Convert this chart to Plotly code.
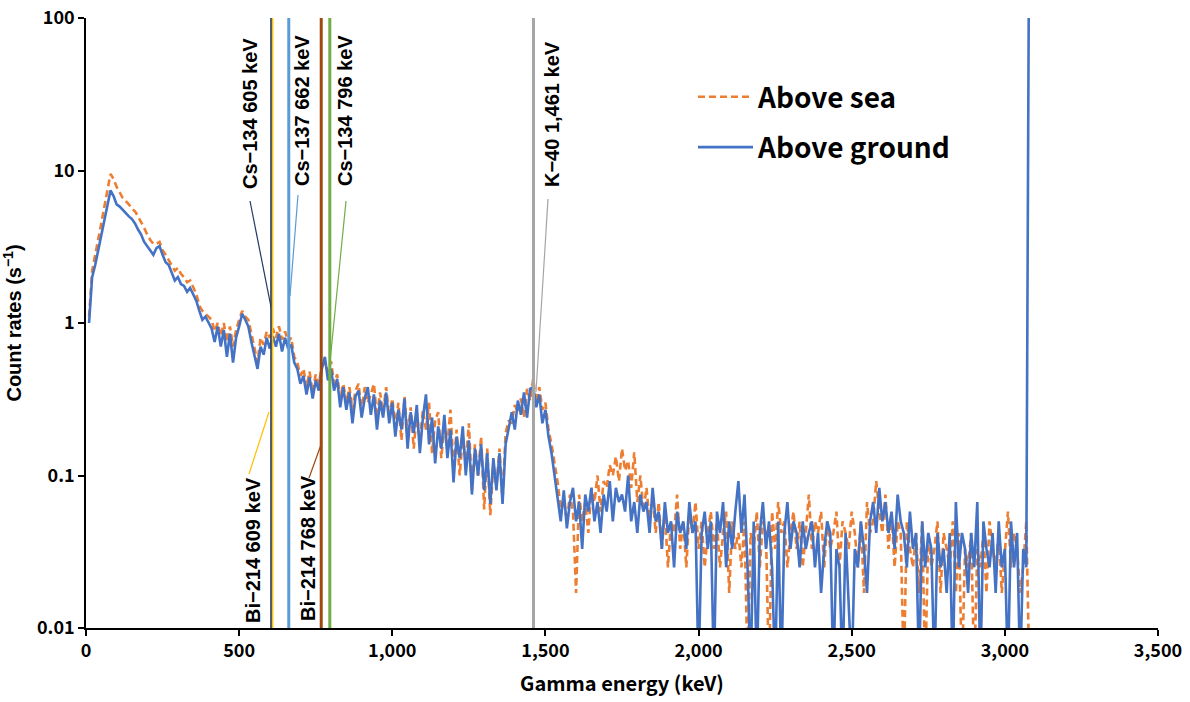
import plotly.graph_objects as go

# Energy grid (keV)
energy = list(range(10, 3081, 10))

# Count rates (s^-1), above ground (blue)
ground = [
    1.0, 2.0, 2.4, 3.0, 3.8, 4.8, 6.0, 7.4, 6.8, 6.0,
    5.8, 5.5, 5.2, 5.0, 4.8, 4.5, 4.1, 3.8, 3.4, 3.2,
    3.0, 2.8, 3.1, 3.2, 2.8, 2.5, 2.4, 2.1, 1.9, 2.0,
    1.8, 1.75, 1.6, 1.7, 1.55, 1.4, 1.2, 1.05, 1.1, 1.0,
    0.92, 0.75, 0.95, 0.7, 0.9, 0.6, 0.85, 0.55, 0.8, 0.95,
    1.15, 1.05, 0.95, 0.75, 0.6, 0.5, 0.7, 0.62, 0.8, 0.68,
    0.82, 0.7, 0.85, 0.65, 0.8, 0.68, 0.72, 0.55, 0.5, 0.4,
    0.45, 0.34, 0.44, 0.32, 0.42, 0.36, 0.5, 0.6, 0.42, 0.5,
    0.36, 0.43, 0.28, 0.38, 0.27, 0.35, 0.22, 0.33, 0.36, 0.24,
    0.32, 0.38, 0.25, 0.34, 0.2, 0.31, 0.24, 0.35, 0.22, 0.3,
    0.18, 0.27, 0.2, 0.32, 0.15, 0.26, 0.19, 0.29, 0.14, 0.24,
    0.34, 0.16, 0.24, 0.12, 0.21, 0.15, 0.25, 0.13, 0.2, 0.09,
    0.18, 0.13, 0.21, 0.1, 0.17, 0.075, 0.15, 0.1, 0.16, 0.08,
    0.14, 0.065, 0.13, 0.08, 0.14, 0.065, 0.16, 0.2, 0.26, 0.2,
    0.31, 0.25, 0.35, 0.24, 0.37, 0.38, 0.28, 0.34, 0.22, 0.27,
    0.18, 0.14, 0.1, 0.075, 0.05, 0.08, 0.045, 0.067, 0.083, 0.05,
    0.067, 0.033, 0.075, 0.058, 0.083, 0.05, 0.067, 0.042, 0.075, 0.058,
    0.092, 0.05, 0.083, 0.067, 0.075, 0.058, 0.1, 0.05, 0.067, 0.042,
    0.075, 0.058, 0.067, 0.042, 0.083, 0.05, 0.058, 0.033, 0.067, 0.042,
    0.05, 0.025, 0.058, 0.042, 0.05, 0.033, 0.067, 0.042, 0.05, 0.005,
    0.042, 0.058, 0.033, 0.05, 0.005, 0.058, 0.042, 0.067, 0.025, 0.05,
    0.033, 0.058, 0.092, 0.042, 0.075, 0.025, 0.005, 0.05, 0.005, 0.042,
    0.067, 0.033, 0.05, 0.025, 0.005, 0.05, 0.005, 0.042, 0.067, 0.033,
    0.05, 0.042, 0.025, 0.05, 0.033, 0.042, 0.05, 0.025, 0.042, 0.017,
    0.033, 0.05, 0.042, 0.005, 0.033, 0.025, 0.005, 0.042, 0.017, 0.005,
    0.033, 0.025, 0.05, 0.033, 0.017, 0.05, 0.067, 0.042, 0.083, 0.05,
    0.067, 0.042, 0.058, 0.033, 0.075, 0.05, 0.042, 0.025, 0.058, 0.033,
    0.042, 0.005, 0.05, 0.025, 0.042, 0.033, 0.005, 0.042, 0.025, 0.033,
    0.017, 0.042, 0.005, 0.067, 0.025, 0.042, 0.033, 0.017, 0.042, 0.025,
    0.067, 0.005, 0.05, 0.033, 0.025, 0.042, 0.017, 0.05, 0.025, 0.033,
    0.005, 0.05, 0.025, 0.042, 0.005, 0.033, 0.025, 1000,
]

# Count rates (s^-1), above sea (orange)
sea = [
    1.1, 2.2, 2.8, 3.5, 4.5, 5.8, 7.5, 9.5, 8.8, 7.8,
    7.2, 6.6, 6.3, 6.0, 5.6, 5.4, 5.0, 4.6, 4.2, 3.8,
    3.5, 3.3, 3.3, 3.4, 3.0, 2.8, 2.6, 2.4, 2.2, 2.3,
    2.1, 2.0, 1.85, 1.9, 1.7, 1.55, 1.3, 1.2, 1.15, 1.1,
    1.05, 0.88, 1.0, 0.82, 1.0, 0.75, 0.95, 0.7, 0.9, 1.05,
    1.2, 1.1, 1.05, 0.85, 0.7, 0.55, 0.8, 0.72, 0.88, 0.8,
    0.92, 0.8, 0.95, 0.78, 0.88, 0.75, 0.8, 0.6, 0.55, 0.45,
    0.5, 0.38, 0.48, 0.35, 0.46, 0.4, 0.52, 0.55, 0.48, 0.56,
    0.4, 0.46, 0.32, 0.4, 0.3, 0.38, 0.27, 0.36, 0.4, 0.26,
    0.38, 0.3, 0.34, 0.4, 0.24, 0.35, 0.26, 0.38, 0.24, 0.32,
    0.21, 0.3, 0.17, 0.33, 0.18, 0.28, 0.15, 0.26, 0.17, 0.27,
    0.2, 0.3, 0.14, 0.23, 0.26, 0.13, 0.21, 0.16, 0.27, 0.11,
    0.2, 0.1, 0.18, 0.12, 0.22, 0.08, 0.16, 0.1, 0.18, 0.06,
    0.15, 0.055, 0.12, 0.085, 0.15, 0.07, 0.19, 0.23, 0.22, 0.29,
    0.26, 0.32, 0.24, 0.37, 0.31, 0.43, 0.3, 0.38, 0.27, 0.3,
    0.2, 0.16, 0.12, 0.09, 0.06, 0.07, 0.05, 0.075, 0.058, 0.017,
    0.075, 0.05, 0.067, 0.042, 0.083, 0.067, 0.1, 0.058, 0.092, 0.083,
    0.117, 0.1, 0.133, 0.092, 0.15, 0.108, 0.125, 0.083, 0.142, 0.067,
    0.1, 0.058, 0.083, 0.05, 0.075, 0.042, 0.067, 0.033, 0.058, 0.025,
    0.05, 0.042, 0.075, 0.033, 0.05, 0.025, 0.058, 0.042, 0.067, 0.033,
    0.05, 0.025, 0.042, 0.058, 0.033, 0.05, 0.025, 0.042, 0.058, 0.017,
    0.05, 0.033, 0.042, 0.025, 0.05, 0.005, 0.042, 0.033, 0.058, 0.025,
    0.05, 0.042, 0.005, 0.058, 0.033, 0.067, 0.042, 0.05, 0.025, 0.042,
    0.058, 0.033, 0.05, 0.025, 0.042, 0.075, 0.033, 0.05, 0.042, 0.058,
    0.025, 0.05, 0.033, 0.042, 0.058, 0.025, 0.05, 0.042, 0.033, 0.058,
    0.042, 0.025, 0.05, 0.017, 0.067, 0.042, 0.05, 0.092, 0.058, 0.042,
    0.075, 0.033, 0.058, 0.025, 0.05, 0.042, 0.005, 0.05, 0.033, 0.025,
    0.042, 0.017, 0.05, 0.005, 0.042, 0.025, 0.033, 0.05, 0.017, 0.042,
    0.033, 0.025, 0.05, 0.017, 0.042, 0.005, 0.033, 0.025, 0.042, 0.005,
    0.033, 0.025, 0.042, 0.017, 0.05, 0.033, 0.025, 0.042, 0.017, 0.033,
    0.058, 0.025, 0.042, 0.033, 0.017, 0.025, 0.05, 0.005,
]

# Reference gamma lines
line_energy = [605, 609, 662, 768, 796, 1461]
line_label = ["Cs\u2212134 605 keV", "Bi\u2212214 609 keV", "Cs\u2212137 662 keV",
              "Bi\u2212214 768 keV", "Cs\u2212134 796 keV", "K\u221240 1,461 keV"]
line_color = ["#203864", "#FFC000", "#5B9BD5", "#9E480E", "#70AD47", "#A5A5A5"]

x_ticks = [0, 500, 1000, 1500, 2000, 2500, 3000, 3500]
y_ticks = [0.01, 0.1, 1, 10, 100]
y_ticktext = ["0.01", "0.1", "1", "10", "100"]

# Layout geometry (pixels); the page body margin is removed by post_script.
W, H = 1190, 702
L, R, T, B = 86, 32, 18, 74
PW, PH = W - L - R, H - T - B


def px(xp):
    return (xp - L) / PW


def py(yp):
    return (H - B - yp) / PH


# label layout: (text center x, text center y, leader start, leader end) in page pixels
label_layout = {
    "Cs\u2212134 605 keV": (250, 114, (250, 201), (272, 312)),
    "Bi\u2212214 609 keV": (253, 550, (249, 474), (269, 412)),
    "Cs\u2212137 662 keV": (302, 111, (298, 195), (290, 296)),
    "Bi\u2212214 768 keV": (308, 548, (309, 478), (322, 442)),
    "Cs\u2212134 796 keV": (345, 111, (346, 201), (330, 362)),
    "K\u221240 1,461 keV": (552, 114, (548, 199), (536, 392)),
}
line_width = {"#203864": 2.2, "#FFC000": 1.6, "#5B9BD5": 3, "#9E480E": 3, "#70AD47": 3, "#A5A5A5": 3}

fig = go.Figure()
fig.add_trace(go.Scatter(
    x=energy, y=sea, mode="lines", name="Above sea", legendgroup="a",
    line=dict(color="#ED7D31", width=2.6, dash="7px,4px"),
))
fig.add_trace(go.Scatter(
    x=energy, y=ground, mode="lines", name="Above ground", legendgroup="b",
    line=dict(color="#4472C4", width=2.6),
))

shapes = []
annotations = []
for e, lab, col in zip(line_energy, line_label, line_color):
    shapes.append(dict(type="line", xref="x", yref="paper", x0=e, x1=e, y0=0, y1=1,
                       line=dict(color=col, width=line_width[col]), layer="above"))
    cx, cy, (sx, sy), (ex, ey) = label_layout[lab]
    shapes.append(dict(type="line", xref="paper", yref="paper",
                       x0=px(sx), y0=py(sy), x1=px(ex), y1=py(ey),
                       line=dict(color=col, width=1.2), layer="above"))
    annotations.append(dict(text=lab, xref="paper", yref="paper", x=px(cx), y=py(cy),
                            xanchor="center", yanchor="middle", showarrow=False, textangle=-90,
                            font=dict(family="Liberation Sans", size=20, color="black", weight="bold")))

fig.update_layout(
    width=W, height=H,
    margin=dict(l=L, r=R, t=T, b=B),
    plot_bgcolor="white", paper_bgcolor="white",
    shapes=shapes, annotations=annotations,
    showlegend=True,
    legend=dict(x=px(693), y=py(72), xanchor="left", yanchor="top",
                bgcolor="rgba(0,0,0,0)", tracegroupgap=11, traceorder="grouped",
                itemwidth=55,
                font=dict(family="Noto Sans CJK JP", size=28, color="black", weight="bold")),
    xaxis=dict(range=[0, 3500], tickvals=x_ticks, tickformat=",d", automargin=False,
               ticklabeloverflow="allow",
               showline=True, linecolor="black", linewidth=1.5,
               ticks="outside", ticklen=6, tickcolor="black", tickwidth=1.5,
               showgrid=False, zeroline=False,
               tickfont=dict(family="Noto Sans CJK JP", size=18, color="black", weight="bold"),
               title=dict(text="Gamma energy (keV)", standoff=16,
                          font=dict(family="Noto Sans CJK JP", size=20, color="black", weight="bold"))),
    yaxis=dict(type="log", range=[-2, 2], tickvals=y_ticks, ticktext=y_ticktext, automargin=False,
               ticklabeloverflow="allow",
               showline=True, linecolor="black", linewidth=1.5,
               ticks="outside", ticklen=6, tickcolor="black", tickwidth=1.5,
               showgrid=False, zeroline=False,
               tickfont=dict(family="Noto Sans CJK JP", size=18, color="black", weight="bold"),
               title=dict(text="Count rates (s<sup>\u22121</sup>)", standoff=12,
                          font=dict(family="Liberation Sans", size=20, color="black", weight="bold"))),
)

fig.write_html("out.html", config={"displayModeBar": False},
               post_script="document.body.style.margin='0';")
